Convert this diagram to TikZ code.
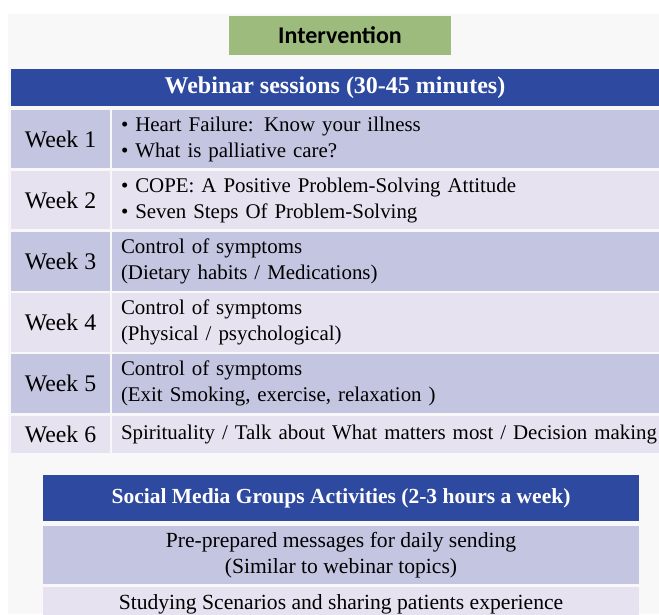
\documentclass[tikz,border=0pt]{standalone}
\usepackage{fontspec}
\setmainfont{Liberation Serif}
\newfontfamily\titlefont{Carlito}
\usetikzlibrary{positioning}

\definecolor{hdrblue}{HTML}{2E4AA0}
\definecolor{rowdark}{HTML}{C4C6E1}
\definecolor{rowlight}{HTML}{E7E2F0}
\definecolor{boxgreen}{HTML}{9DBB7C}
\definecolor{pagegrey}{HTML}{F8F8F8}

\tikzset{
    cell/.style={anchor=north west,inner sep=0pt,outer sep=0pt},
    headbar/.style={cell,fill=hdrblue,text=white,font=\bfseries\fontsize{24}{28}\selectfont},
    weekcell/.style={cell,minimum width=99pt,font=\fontsize{23.8}{26}\selectfont},
    topiccell/.style={cell,minimum width=547pt,inner xsep=9pt,text width=560pt,align=left,
        font=\fontsize{20.9}{26}\selectfont},
    mediarow/.style={cell,minimum width=596pt,align=center,font=\fontsize{21.6}{26}\selectfont}
}

\begin{document}
\begin{tikzpicture}[x=1pt,y=-1pt]
    \useasboundingbox (0,0) rectangle (659,614);
    \fill[white] (0,0) rectangle (659,614);
    \fill[pagegrey] (8,14) rectangle (659,614);

    \node[cell,fill=boxgreen,minimum width=222pt,minimum height=39pt,
        font=\titlefont\bfseries\fontsize{24}{26}\selectfont] (interv) at (229,16) {Intervention};

    % webinar table
    \node[headbar,minimum width=648pt,minimum height=37pt] (webhead) at (11,69) {Webinar sessions (30-45 minutes)};
    \foreach \n/\y/\h/\shade in {1/110/58/rowdark,2/171/58/rowlight,3/232/59/rowdark,
                                 4/293/59/rowlight,5/354/59/rowdark,6/416/37/rowlight} {
        \node[weekcell,fill=\shade,minimum height=\h pt] (w\n) at (11,\y) {Week \n};
    }
    \node[topiccell,fill=rowdark,minimum height=58pt,right=2pt of w1.north east,anchor=north west] (t1)
        {\textbullet{} Heart Failure: Know your illness\\\textbullet{} What is palliative care?};
    \node[topiccell,fill=rowlight,minimum height=58pt,right=2pt of w2.north east,anchor=north west] (t2)
        {\textbullet{} COPE: A Positive Problem-Solving Attitude\\\textbullet{} Seven Steps Of Problem-Solving};
    \node[topiccell,fill=rowdark,minimum height=59pt,right=2pt of w3.north east,anchor=north west] (t3)
        {Control of symptoms\\(Dietary habits / Medications)};
    \node[topiccell,fill=rowlight,minimum height=59pt,right=2pt of w4.north east,anchor=north west] (t4)
        {Control of symptoms\\(Physical / psychological)};
    \node[topiccell,fill=rowdark,minimum height=59pt,right=2pt of w5.north east,anchor=north west] (t5)
        {Control of symptoms\\(Exit Smoking, exercise, relaxation )};
    \node[topiccell,fill=rowlight,minimum height=37pt,right=2pt of w6.north east,anchor=north west] (t6)
        {Spirituality / Talk about What matters most / Decision making};

    % social media table
    \node[headbar,minimum width=596pt,minimum height=46pt,font=\bfseries\fontsize{21.5}{24}\selectfont]
        (mediahead) at (43,475) {Social Media Groups Activities (2-3 hours a week)};
    \node[mediarow,fill=rowdark,minimum height=58pt] (m1) at (43,526)
        {Pre-prepared messages for daily sending\\(Similar to webinar topics)};
    \node[mediarow,fill=rowlight,minimum height=34pt] (m2) at (43,587)
        {Studying Scenarios and sharing patients experience};
\end{tikzpicture}
\end{document}
